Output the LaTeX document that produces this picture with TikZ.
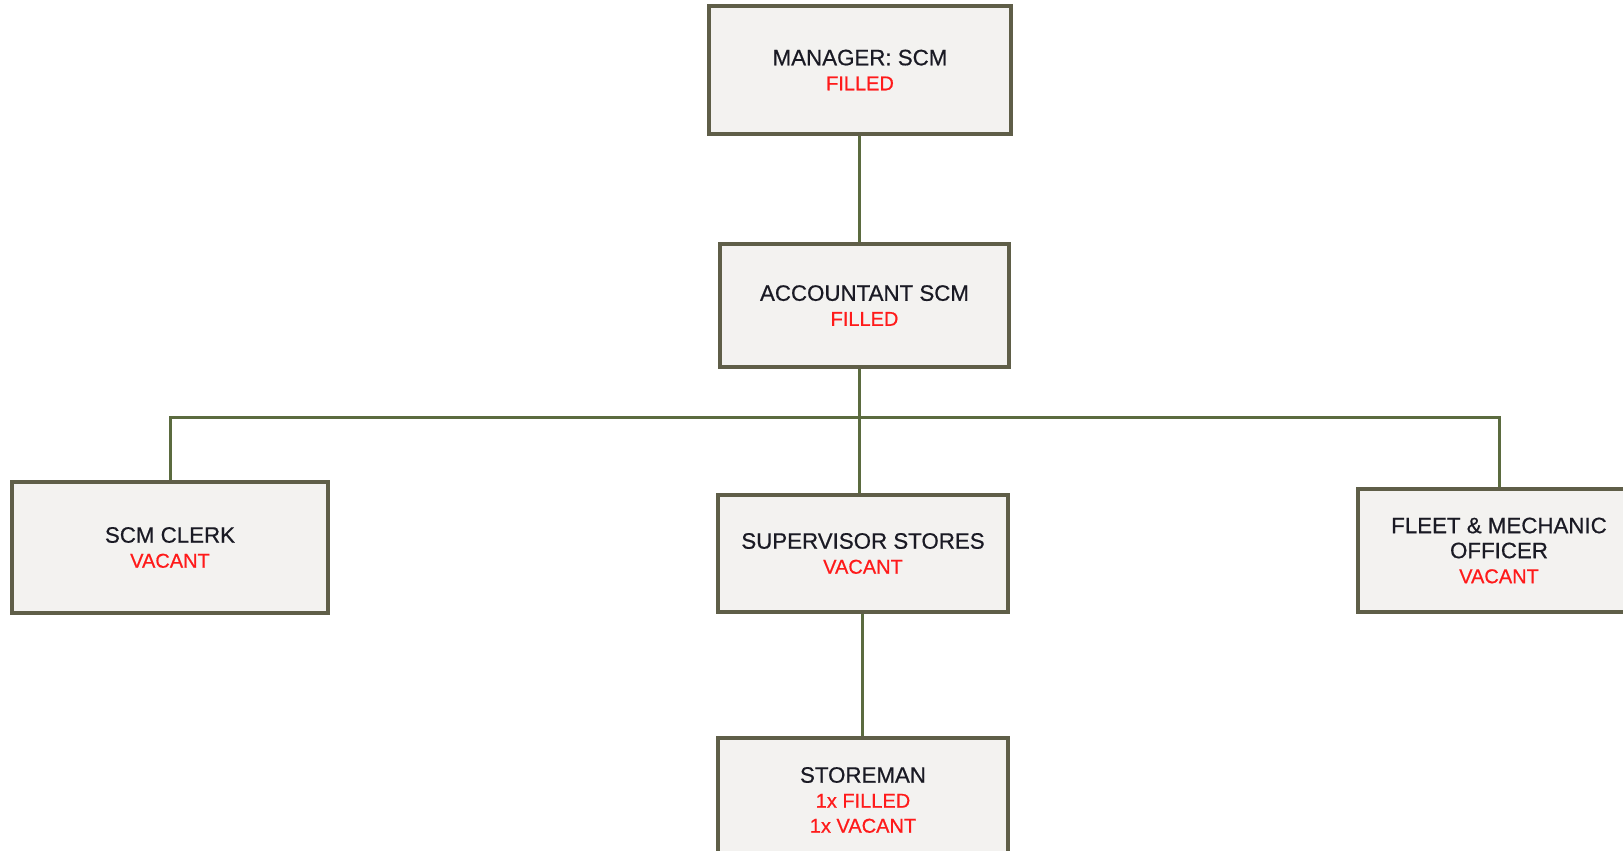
\documentclass[tikz,border=0pt]{standalone}
\usepackage{fontspec}
\setmainfont{Liberation Sans}[
  BoldFont={Liberation Sans},
  BoldFeatures={FakeBold=0.6}]
\definecolor{boxfill}{HTML}{F3F2F0}
\definecolor{boxline}{HTML}{5F5E48}
\definecolor{linkline}{HTML}{5B6B3F}
\definecolor{titletext}{HTML}{1A1A24}
\definecolor{statustext}{HTML}{FF1A1A}
\newcommand{\status}[1]{{\color{statustext}\fontsize{20}{25}\selectfont #1}}
\tikzset{
  post/.style={draw=boxline, line width=3.2pt, fill=boxfill, rectangle,
    align=center, inner sep=0pt, text=titletext,
    font=\fontsize{22.3}{25}\selectfont\bfseries},
  link/.style={draw=linkline, line width=3pt}
}
\begin{document}
\begin{tikzpicture}[x=1pt, y=-1pt]
\useasboundingbox (0,0) rectangle (1623,851);

% positions
\node[post, minimum width=302pt, minimum height=128pt] (mgr) at (860,70)
  {MANAGER: SCM\\\status{FILLED}};
\node[post, minimum width=289pt, minimum height=123pt] (acc) at (864.5,305.5)
  {ACCOUNTANT SCM\\\status{FILLED}};
\node[post, minimum width=316pt, minimum height=131pt] (clerk) at (170,547.5)
  {SCM CLERK\\\status{VACANT}};
\node[post, minimum width=290pt, minimum height=117pt] (sup) at (863,553.5)
  {SUPERVISOR STORES\\\status{VACANT}};
\node[post, minimum width=282pt, minimum height=123pt] (fleet) at (1499,550.5)
  {FLEET \& MECHANIC\\OFFICER\\\status{VACANT}};
\node[post, minimum width=290pt, minimum height=124pt] (store) at (863,800)
  {STOREMAN\\\status{1x FILLED}\\\status{1x VACANT}};

% reporting lines
\coordinate (trunk) at (859,0);
\coordinate (bus) at (859,417);
\draw[link] (trunk |- mgr.south) -- (trunk |- acc.north);
\draw[link] (trunk |- acc.south) -- (trunk |- sup.north);
\draw[link] (clerk.north) |- (bus) -| (fleet.north);
\draw[link] (862,0 |- sup.south) -- (862,0 |- store.north);
\end{tikzpicture}
\end{document}
